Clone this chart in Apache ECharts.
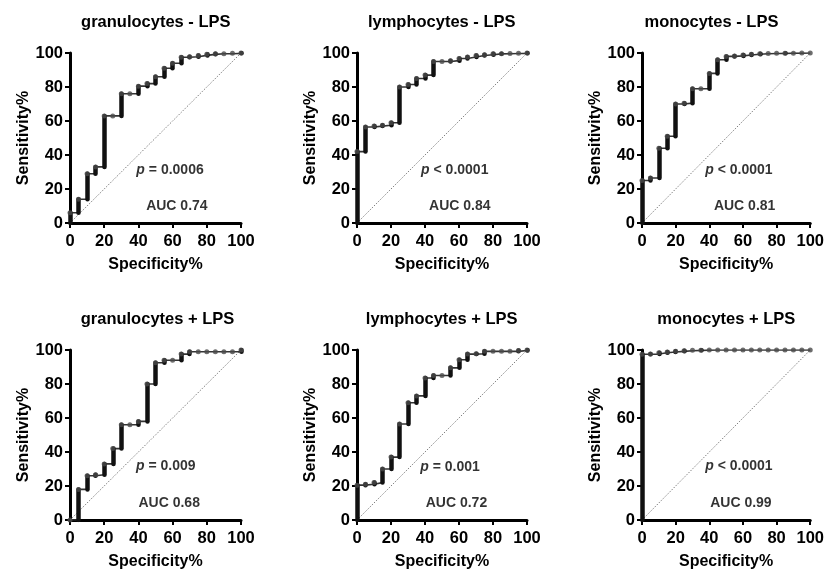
<!DOCTYPE html>
<html>
<head>
<meta charset="utf-8">
<script src="https://cdn.jsdelivr.net/npm/echarts@6/dist/echarts.min.js"></script>
<style>
html,body{margin:0;padding:0;background:#fff;}
#chart{width:827px;height:572px;}
</style>
</head>
<body>
<div id="chart"></div>
<script>
// ---- data ----
const specificity = [0, 5, 10, 15, 20, 25, 30, 35, 40, 45, 50, 55, 60, 65, 70, 75, 80, 85, 90, 95, 100];
const axisTicks = [0, 20, 40, 60, 80, 100];

const panelTitles = ['granulocytes - LPS', 'lymphocytes - LPS', 'monocytes - LPS',
                     'granulocytes + LPS', 'lymphocytes + LPS', 'monocytes + LPS'];

const granulocytesMinus = [6, 14, 29, 33, 63, 63, 76, 76, 80.5, 82, 86, 91, 94, 97.5, 97.8, 98.6, 99.2, 99.6, 99.6, 99.8, 100];
const lymphocytesMinus  = [42, 56.5, 57, 57.5, 59, 80, 81.5, 85, 87, 95, 95, 95.5, 96.8, 97.6, 98.5, 99, 99.5, 99.6, 99.7, 99.8, 100];
const monocytesMinus    = [25, 26.5, 44, 51, 70, 70.5, 79, 79, 88, 96, 98, 98.3, 98.8, 99.3, 99.6, 99.7, 99.8, 99.9, 99.9, 100, 100];
const granulocytesPlus  = [0, 18, 26, 26.6, 33, 42, 56, 56, 58, 80, 92.5, 94, 94, 97.6, 99, 99, 99, 99, 99, 99, 100];
const lymphocytesPlus   = [20.5, 21, 22, 30, 37, 56.5, 69, 73, 83.5, 85, 85, 89.5, 94.3, 97.6, 97.8, 99.2, 99.2, 99.2, 99.2, 99.7, 100];
const monocytesPlus     = [97.5, 97.6, 98.4, 98.8, 99.2, 99.6, 99.8, 99.9, 100, 100, 100, 100, 100, 100, 100, 100, 100, 100, 100, 100, 100];

const pSymbols = ['=', '<', '<', '=', '=', '<'];
const pValues  = ['0.0006', '0.0001', '0.0001', '0.009', '0.001', '0.0001'];
const aucValues = ['0.74', '0.84', '0.81', '0.68', '0.72', '0.99'];

const pPos   = [[58.5, 31], [57.5, 31], [57.6, 31], [56, 31.5], [54.7, 31], [57.6, 31.5]];
const aucPos = [[62.5, 10], [60.5, 10], [61, 10], [58, 10], [58.5, 10], [58.8, 10]];

const sensitivities = [granulocytesMinus, lymphocytesMinus, monocytesMinus,
                       granulocytesPlus, lymphocytesPlus, monocytesPlus];

// ---- layout ----
const colLeft = [70, 357, 642];
const colWidth = [171, 170, 170];
const rowTop = [53, 350];
const rowHeight = [170, 170];
const titleX = [[155.8, 441.7, 711.5], [157.5, 441.7, 726.3]];
const titleY = [22, 319];

const FONT = '"Liberation Sans", Arial, Helvetica, sans-serif';

const grids = [], xAxes = [], yAxes = [], series = [], graphics = [];

for (let k = 0; k < 6; k++) {
  const r = Math.floor(k / 3), c = k % 3;
  grids.push({left: colLeft[c], top: rowTop[r], width: colWidth[c], height: rowHeight[r], containLabel: false});
  const axisCommon = {
    type: 'value', min: axisTicks[0], max: axisTicks[axisTicks.length - 1],
    interval: axisTicks[1] - axisTicks[0],
    gridIndex: k,
    axisLine: {show: true, onZero: false, lineStyle: {color: '#000', width: 3}},
    axisTick: {show: true, inside: false, length: 5, lineStyle: {color: '#000', width: 2}},
    splitLine: {show: false},
    nameLocation: 'middle',
    nameTextStyle: {fontFamily: FONT, fontWeight: 'bold', fontSize: 16, color: '#000'}
  };
  xAxes.push(Object.assign({}, axisCommon, {
    name: 'Specificity%', nameGap: 34,
    axisLabel: {fontFamily: FONT, fontWeight: 'bold', fontSize: 16.5, color: '#000', margin: 10}
  }));
  yAxes.push(Object.assign({}, axisCommon, {
    name: 'Sensitivity%', nameGap: 35,
    axisLabel: {fontFamily: FONT, fontWeight: 'bold', fontSize: 16.5, color: '#000', margin: 7}
  }));

  const sens = sensitivities[k];
  const path = [[specificity[0], 0]];
  const bars = [];
  const dots = [];
  for (let i = 0; i < specificity.length; i++) {
    const lo = i === 0 ? 0 : sens[i - 1];
    if (i > 0) path.push([specificity[i], lo]);
    path.push([specificity[i], sens[i]]);
    if (sens[i] > lo) bars.push({coords: [[specificity[i], lo], [specificity[i], sens[i]]]});
    dots.push([specificity[i], sens[i]]);
  }

  // diagonal reference
  series.push({
    type: 'line', xAxisIndex: k, yAxisIndex: k, silent: true, symbol: 'none',
    data: [[axisTicks[0], axisTicks[0]], [axisTicks[axisTicks.length - 1], axisTicks[axisTicks.length - 1]]],
    lineStyle: {color: '#808080', width: 1, type: [1.5, 1.5]}, z: 1
  });
  // step curve
  series.push({
    type: 'line', xAxisIndex: k, yAxisIndex: k, silent: true, symbol: 'none',
    data: path, lineStyle: {color: '#333', width: 1.6}, z: 2
  });
  // vertical steps (dense points)
  series.push({
    type: 'lines', coordinateSystem: 'cartesian2d', xAxisIndex: k, yAxisIndex: k, silent: true,
    data: bars, lineStyle: {color: '#111', width: 4.5, opacity: 1, cap: 'round'}, z: 3
  });
  // points
  series.push({
    type: 'scatter', xAxisIndex: k, yAxisIndex: k, silent: true,
    data: dots, symbol: 'circle', symbolSize: 5,
    itemStyle: {color: '#4a4a4a'}, z: 4
  });
  // annotations
  series.push({
    type: 'scatter', xAxisIndex: k, yAxisIndex: k, silent: true, symbolSize: 0,
    itemStyle: {color: '#000'},
    data: [
      {value: pPos[k], label: {formatter: '{i|p}{n| ' + pSymbols[k] + ' ' + pValues[k] + '}'}},
      {value: aucPos[k], label: {formatter: '{n|AUC ' + aucValues[k] + '}'}}
    ],
    label: {
      show: true, position: 'inside', color: '#000', textBorderWidth: 0,
      rich: {
        i: {fontFamily: FONT, fontWeight: 'bold', fontStyle: 'italic', fontSize: 14, color: '#000', textBorderWidth: 0},
        n: {fontFamily: FONT, fontWeight: 'bold', fontSize: 14, color: '#000', textBorderWidth: 0}
      }
    },
    z: 5
  });

  graphics.push({
    type: 'text', x: titleX[r][c], y: titleY[r], silent: true,
    style: {text: panelTitles[k], font: 'bold 16.5px ' + FONT, fill: '#000',
            textAlign: 'center', textVerticalAlign: 'middle'}
  });
}

const chart = echarts.init(document.getElementById('chart'), null, {renderer: 'canvas'});
chart.setOption({
  animation: false,
  backgroundColor: '#fff',
  grid: grids, xAxis: xAxes, yAxis: yAxes, series: series,
  graphic: graphics
});
</script>
</body>
</html>
